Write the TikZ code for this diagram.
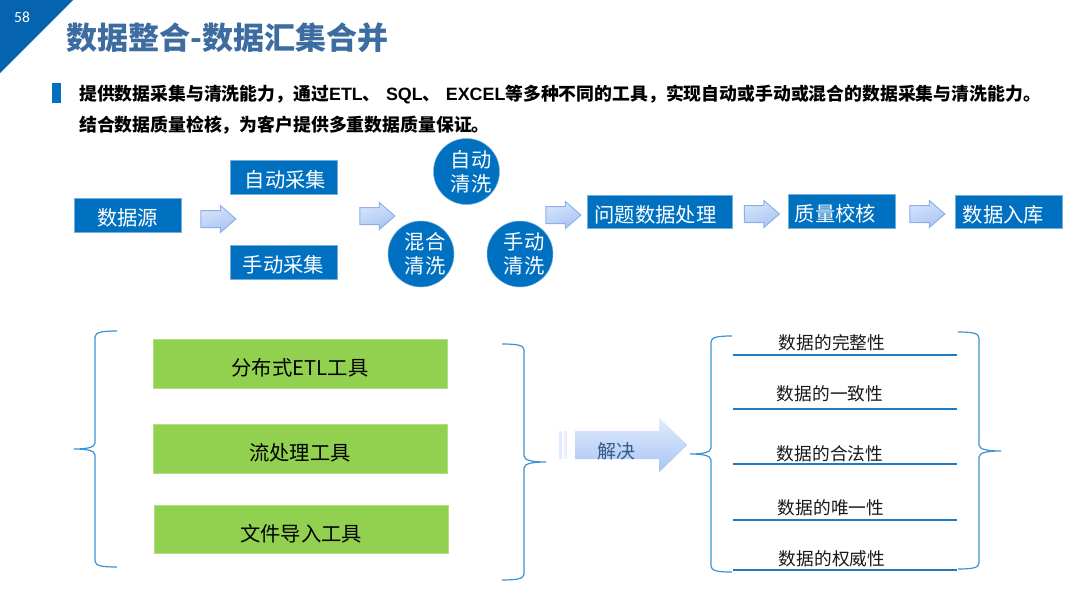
\documentclass[tikz,border=0pt]{standalone}
\usepackage{fontspec}
\setmainfont{Noto Sans CJK SC}
\newfontfamily\latinfont{Liberation Sans}
\newfontfamily\pagefont{Carlito}
\usetikzlibrary{shapes.arrows}
\definecolor{bluebox}{HTML}{0070C0}
\definecolor{titleblue}{HTML}{3C6CA0}
\definecolor{cornerblue}{HTML}{0563B0}
\definecolor{greenbox}{HTML}{92D050}
\definecolor{bracecol}{HTML}{3C93D6}
\definecolor{linecol}{HTML}{1F7CC4}
\definecolor{arrowedge}{HTML}{8FB0E6}
\definecolor{arrowlight}{HTML}{D6E4FD}
\definecolor{arrowdark}{HTML}{A8C4F2}
\newcommand{\fs}[1]{\fontsize{#1}{#1}\selectfont}
\newcommand{\pad}[1]{\hspace*{#1pt}}
\newcommand{\bracepath}[6]{% xend, xspine, xtip, ytop, ytip, ybottom
  \draw[bracestroke] (#1,#4) .. controls ({#2+0.35*(#1-#2)},#4) and (#2,{#4+1}) .. (#2,{#4+6})
    -- (#2,{#5-6}) .. controls (#2,{#5-1}) and ({#2+0.5*(#3-#2)},#5) .. (#3,#5)
    .. controls ({#2+0.5*(#3-#2)},#5) and (#2,{#5+1}) .. (#2,{#5+6})
    -- (#2,{#6-6}) .. controls (#2,{#6-1}) and ({#2+0.35*(#1-#2)},#6) .. (#1,#6);}
\tikzset{
  bluerect/.style={fill=bluebox,draw=bluebox!55!white,line width=0.5pt,inner sep=0,text=white,font=\fs{20.3},text height=21.4pt,text depth=0pt},
  bluecirc/.style={circle,fill=bluebox,draw=bluebox!55!white,line width=0.5pt,inner sep=0,minimum size=66pt,text=white,font=\fontsize{20.3}{24}\selectfont,align=center},
  greenrect/.style={fill=greenbox,draw=greenbox!70!white,line width=0.5pt,inner sep=0,text=black,font=\fs{20.3},text height=24.4pt,text depth=0pt},
  blockarrow/.style={single arrow,single arrow head extend=5pt,single arrow tip angle=82,minimum height=35pt,inner xsep=0,inner ysep=8pt,
    draw=arrowedge,line width=1pt,top color=arrowlight,bottom color=arrowdark,shading angle=20},
  bracestroke/.style={draw=bracecol,line width=1.2pt},
  ruleline/.style={draw=linecol,line width=1.4pt},
  qual/.style={font=\fs{17.7},text=black!90,inner sep=0},
  intro/.style={anchor=base west,inner sep=0,font=\fs{17.85}\bfseries,text=black}
}
\begin{document}
\begin{tikzpicture}[x=1pt,y=-1pt]
\useasboundingbox[fill=white] (0,0) rectangle (1080,608);
% header
\fill[cornerblue] (0,0) -- (73,0) -- (0,73) -- cycle;
\node[text=white,inner sep=0,font=\pagefont\fs{15.5}] (pagenum) at (22,17) {58};
\node[anchor=base west,inner sep=0,text=titleblue,font=\fs{31}\bfseries] (title) at (66,49) {数据整合-数据汇集合并};
\fill[bluebox] (52,83) rectangle (61,103);
\node[intro] (line1) at (79,100) {提供数据采集与清洗能力，通过{\latinfont ETL}、\hspace{0.3em}{\latinfont SQL}、\hspace{0.3em}{\latinfont EXCEL}等多种不同的工具，实现自动或手动或混合的数据采集与清洗能力。};
\node[intro] (line2) at (79,131) {结合数据质量检核，为客户提供多重数据质量保证。};
% process row
\node[bluerect,minimum width=107pt,minimum height=34pt] (src) at (127.5,215) {数据源};
\node[bluerect,minimum width=107.5pt,minimum height=34.5pt] (auto) at (283.5,177) {\pad{4}自动采集};
\node[bluerect,minimum width=107.5pt,minimum height=34pt] (manual) at (283.5,262) {手动采集};
\node[bluecirc] (c1) at (466.5,171.5) {\pad{9}自动\\\pad{9}清洗};
\node[bluecirc] (c2) at (421,254) {\pad{8}混合\\\pad{8}清洗};
\node[bluecirc] (c3) at (520,254) {\pad{8}手动\\\pad{8}清洗};
\node[bluerect,minimum width=145pt,minimum height=33pt] (prob) at (659.5,211.5) {问题数据处理\pad{8}};
\node[bluerect,minimum width=107pt,minimum height=34pt] (qc) at (841.5,211) {质量校核\pad{12}};
\node[bluerect,minimum width=107pt,minimum height=33pt] (store) at (1008.5,211.5) {数据入库\pad{10}};
\node[blockarrow] (a1) at (213.5,219) {};
\node[blockarrow] (a2) at (372.5,216) {};
\node[blockarrow] (a3) at (558.5,215) {};
\node[blockarrow] (a4) at (757,214) {};
\node[blockarrow] (a5) at (922.5,214) {};
% tools
\node[greenrect,minimum width=294pt,minimum height=49pt] (g1) at (300,363.5) {分布式ETL工具};
\node[greenrect,minimum width=294pt,minimum height=49pt] (g2) at (300,448.5) {流处理工具};
\node[greenrect,minimum width=294pt,minimum height=48pt] (g3) at (301,529) {文件导入工具};
\bracepath{117}{95}{74}{331}{449}{567}
\bracepath{502}{524}{546}{344}{462}{580}
% solve arrow
\fill[arrowlight!75!white] (559,431) rectangle (562,459);
\fill[arrowlight!55!white] (564,431) rectangle (567,459);
\node[single arrow,single arrow head extend=13pt,single arrow tip angle=88,minimum height=112pt,inner xsep=0,inner ysep=14pt,
  top color=arrowlight!70!white,bottom color=arrowdark] (solve) at (624,445) {};
\node[inner sep=0,text=titleblue!85!black,font=\fs{19}] (solvetext) at (616.5,451) {解决};
% qualities
\bracepath{732}{711}{690}{336}{454}{572}
\bracepath{958}{979}{1001}{332}{451}{569}
\coordinate (r1a) at (733,355); \coordinate (r1b) at (957,355);
\coordinate (r2a) at (733,409); \coordinate (r2b) at (957,409);
\coordinate (r3a) at (733,464); \coordinate (r3b) at (957,464);
\coordinate (r4a) at (733,520); \coordinate (r4b) at (957,520);
\coordinate (r5a) at (733,570); \coordinate (r5b) at (957,570);
\draw[ruleline] (r1a) -- (r1b);
\draw[ruleline] (r2a) -- (r2b);
\draw[ruleline] (r3a) -- (r3b);
\draw[ruleline] (r4a) -- (r4b);
\draw[ruleline] (r5a) -- (r5b);
\node[qual] (q1) at (832,343) {数据的完整性};
\node[qual] (q2) at (830,394) {数据的一致性};
\node[qual] (q3) at (830,454) {数据的合法性};
\node[qual] (q4) at (831,508) {数据的唯一性};
\node[qual] (q5) at (832,559) {数据的权威性};
\end{tikzpicture}
\end{document}
